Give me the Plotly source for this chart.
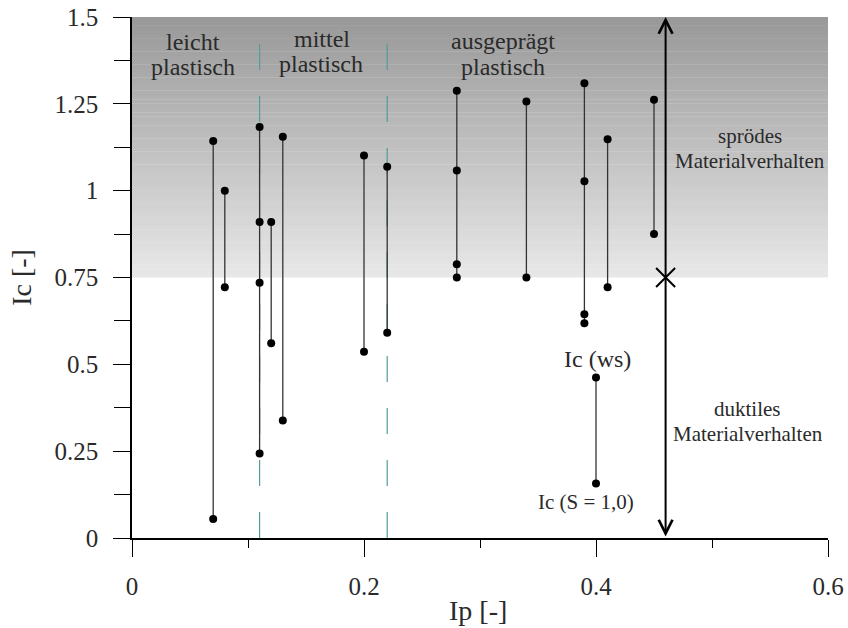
import plotly.graph_objects as go

# ---------------- data ----------------
ip_values = [0.07, 0.08, 0.11, 0.12, 0.13, 0.20, 0.22, 0.28, 0.34, 0.39, 0.41, 0.45, 0.40]
ic_values = [
    [1.143, 0.055],
    [1.000, 0.722],
    [1.183, 0.910, 0.735, 0.243],
    [0.910, 0.561],
    [1.155, 0.338],
    [1.101, 0.536],
    [1.069, 0.591],
    [1.288, 1.058, 0.788, 0.750],
    [1.257, 0.750],
    [1.309, 1.027, 0.644, 0.618],
    [1.148, 0.722],
    [1.262, 0.875],
    [0.462, 0.157],
]
class_bounds = [0.11, 0.22]          # plasticity class limits (dashed)
class_bound_top = 1.426
brittle_limit = 0.75                # Ic limit brittle / ductile
arrow_x = 0.46
x_ticks = [0, 0.2, 0.4, 0.6]
x_tick_text = ["0", "0.2", "0.4", "0.6"]
y_ticks = [0, 0.25, 0.5, 0.75, 1, 1.25, 1.5]
y_tick_text = ["0", "0.25", "0.5", "0.75", "1", "1.25", "1.5"]
X_RANGE = [0, 0.6]
Y_RANGE = [0, 1.5]

FONT = "Liberation Serif, Times New Roman, serif"
TXT = "#2a2a2a"

fig = go.Figure()

# gradient background for brittle region
n_bands = 60
top_c, bot_c = 0x98, 0xe8
for i in range(n_bands):
    y0 = brittle_limit + (Y_RANGE[1] - brittle_limit) * i / n_bands
    y1 = brittle_limit + (Y_RANGE[1] - brittle_limit) * (i + 1) / n_bands
    t = (i + 0.5) / n_bands
    c = int(round(bot_c + (top_c - bot_c) * t))
    fig.add_shape(type="rect", xref="x", yref="y", x0=X_RANGE[0], x1=X_RANGE[1],
                  y0=y0, y1=y1 + 0.001, fillcolor=f"rgb({c},{c},{c})",
                  line=dict(width=0), layer="below")

# dashed class boundaries
for xb in class_bounds:
    fig.add_shape(type="line", xref="x", yref="y", x0=xb, x1=xb, y0=0, y1=class_bound_top,
                  line=dict(color="#4f9e9a", width=1.2, dash="26px,26px"), layer="below")

# segments
for x, ys in zip(ip_values, ic_values):
    fig.add_trace(go.Scatter(
        x=[x] * len(ys), y=ys, mode="lines+markers",
        line=dict(color="#333333", width=1.3),
        marker=dict(color="black", size=8),
        showlegend=False, hoverinfo="skip", cliponaxis=False))

# X marker at the brittle limit
fig.add_trace(go.Scatter(
    x=[arrow_x], y=[brittle_limit], mode="markers",
    marker=dict(symbol="x-thin", size=19, line=dict(width=2, color="black")),
    showlegend=False, hoverinfo="skip", cliponaxis=False))

# double arrow
fig.add_annotation(x=arrow_x, y=Y_RANGE[1], ax=arrow_x, ay=Y_RANGE[0],
                   xref="x", yref="y", axref="x", ayref="y", text="",
                   showarrow=True, arrowside="end+start", arrowhead=5, startarrowhead=5,
                   arrowwidth=2, arrowsize=1.35, startarrowsize=1.35,
                   arrowcolor="black", standoff=0, startstandoff=0)

labels = [
    ("leicht", 0.0526, 1.428, 24),
    ("plastisch", 0.0526, 1.356, 24),
    ("mittel", 0.1635, 1.438, 24),
    ("plastisch", 0.163, 1.365, 24),
    ("ausgeprägt", 0.320, 1.431, 24),
    ("plastisch", 0.320, 1.356, 24),
    ("sprödes", 0.533, 1.157, 21),
    ("Materialverhalten", 0.533, 1.085, 21),
    ("duktiles", 0.531, 0.371, 21),
    ("Materialverhalten", 0.531, 0.299, 21),
    ("Ic (ws)", 0.401, 0.515, 24),
    ("Ic (S = 1,0)", 0.391, 0.104, 21),
]
for txt, x, y, s in labels:
    fig.add_annotation(x=x, y=y, xref="x", yref="y", text=txt, showarrow=False,
                       xanchor="center", yanchor="middle",
                       font=dict(family=FONT, size=s, color=TXT))

# axis titles
fig.add_annotation(x=0.497, y=-0.140, xref="paper", yref="paper", text="Ip [-]",
                   showarrow=False, xanchor="center", yanchor="middle",
                   font=dict(family=FONT, size=28, color=TXT))
fig.add_annotation(x=-0.159, y=0.5, xref="paper", yref="paper", text="Ic [-]",
                   textangle=-90, showarrow=False, xanchor="center", yanchor="middle",
                   font=dict(family=FONT, size=28, color=TXT))

fig.update_xaxes(range=X_RANGE, tickvals=x_ticks, ticktext=x_tick_text,
                 showgrid=False, zeroline=False, showline=True, linecolor="black", linewidth=1.5,
                 ticks="outside", ticklen=17, tickwidth=1.3, tickcolor="black",
                 ticklabelstandoff=8,
                 minor=dict(dtick=0.1, tick0=0, ticks="outside", ticklen=8, tickwidth=1.3,
                            tickcolor="black", showgrid=False),
                 tickfont=dict(family=FONT, size=25, color=TXT))
fig.update_yaxes(range=Y_RANGE, tickvals=y_ticks, ticktext=y_tick_text,
                 showgrid=False, zeroline=False, showline=True, linecolor="black", linewidth=1.5,
                 ticks="outside", ticklen=17, tickwidth=1.3, tickcolor="black",
                 ticklabelstandoff=10,
                 minor=dict(dtick=0.125, tick0=0, ticks="outside", ticklen=16, tickwidth=1.3,
                            tickcolor="black", showgrid=False),
                 tickfont=dict(family=FONT, size=25, color=TXT))

fig.update_layout(width=848, height=628,
                  margin=dict(l=132, r=20, t=17, b=90, autoexpand=False),
                  plot_bgcolor="white", paper_bgcolor="white",
                  font=dict(family=FONT))

fig.write_html("out.html")
